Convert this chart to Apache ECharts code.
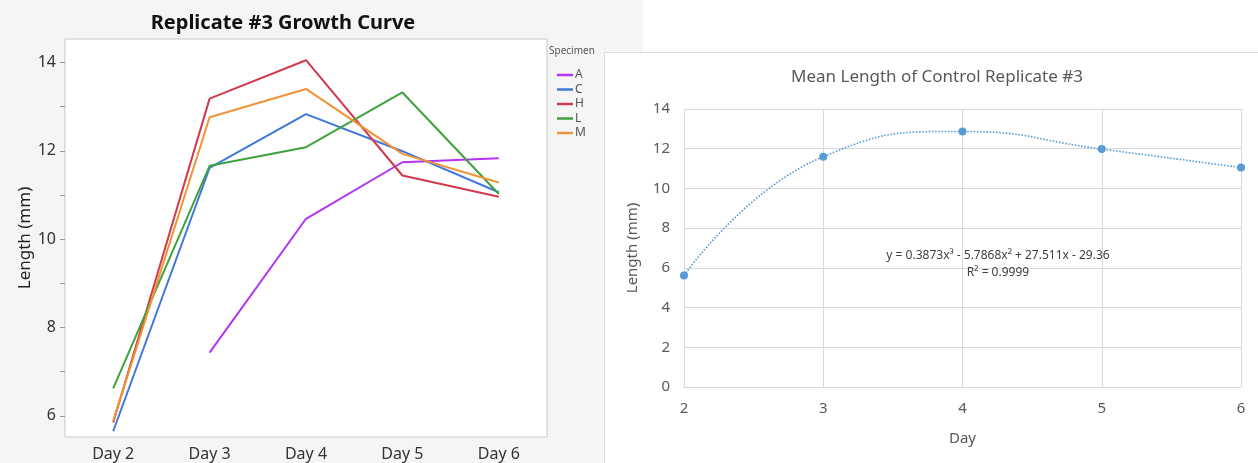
<!DOCTYPE html>
<html>
<head>
<meta charset="utf-8">
<script src="https://cdn.jsdelivr.net/npm/echarts@6/dist/echarts.min.js"></script>
<style>html,body{margin:0;padding:0;background:#fff;}#c{width:1258px;height:463px;}</style>
</head>
<body>
<div id="c"></div>
<script>
// Left chart data
const days = ['Day 2', 'Day 3', 'Day 4', 'Day 5', 'Day 6'];
const specA = [null, 7.43, 10.46, 11.74, 11.83];
const specC = [5.65, 11.61, 12.83, 11.99, 11.06];
const specH = [5.85, 13.18, 14.05, 11.44, 10.96];
const specL = [6.62, 11.66, 12.08, 13.32, 11.02];
const specM = [5.88, 12.76, 13.40, 11.93, 11.28];
const specNames = ['A', 'C', 'H', 'L', 'M'];
const specColors = ['#b533f2', '#3f78da', '#d0394e', '#3fa23f', '#ef9436'];
// Right chart data
const meanDays = [2, 3, 4, 5, 6];
const meanLen = [5.62, 11.60, 12.87, 11.98, 11.05];
const eqText = 'y = 0.3873x\u00B3 - 5.7868x\u00B2 + 27.511x - 29.36';
const r2Text = 'R\u00B2 = 0.9999';

const FONT = 'Noto Sans';
const chart = echarts.init(document.getElementById('c'));
const specData = [specA, specC, specH, specL, specM];

const series = specNames.map((n, i) => ({
  name: n, type: 'line', xAxisIndex: 0, yAxisIndex: 0,
  data: specData[i], symbol: 'none', connectNulls: false,
  lineStyle: { width: 2, color: specColors[i] }, itemStyle: { color: specColors[i] },
  z: 3
}));
series.push({
  name: 'Mean', type: 'line', xAxisIndex: 1, yAxisIndex: 1,
  data: meanDays.map((d, i) => [d, meanLen[i]]),
  smooth: 0.5, symbol: 'circle', symbolSize: 8,
  lineStyle: { width: 1.6, type: 'dotted', color: '#5b9bd5' },
  itemStyle: { color: '#5b9bd5' }, z: 3
});

chart.setOption({
  backgroundColor: '#ffffff',
  animation: false,
  textStyle: { fontFamily: FONT },
  title: [
    { text: 'Replicate #3 Growth Curve', left: 278, top: 8, textAlign: 'center',
      textStyle: { fontSize: 20, fontWeight: 'bold', color: '#111', fontFamily: FONT } },
    { text: 'Mean Length of Control Replicate #3', left: 932, top: 64, textAlign: 'center',
      textStyle: { fontSize: 17, fontWeight: 'normal', color: '#595959', fontFamily: FONT } }
  ],
  legend: {
    data: specNames, orient: 'vertical', left: 552, top: 64,
    icon: 'rect', itemWidth: 16, itemHeight: 2.5, itemGap: 2.5,
    textStyle: { fontSize: 12, color: '#555', fontFamily: FONT, padding: [0, 0, 0, -3] }
  },
  graphic: [
    { type: 'rect', shape: { x: 0, y: 0, width: 643, height: 463 }, style: { fill: '#f5f5f5' }, z: -10, silent: true },
    { type: 'rect', shape: { x: 604.5, y: 52.5, width: 660, height: 420 }, style: { fill: '#ffffff', stroke: '#dcdcdc', lineWidth: 1 }, z: -9, silent: true },
    { type: 'text', left: 549, top: 46, style: { text: 'Specimen', fontSize: 10, fill: '#555', fontFamily: FONT }, z: 5 },
    { type: 'text', x: 998, y: 256, style: { text: eqText, fontSize: 12, fill: '#404040', fontFamily: FONT, align: 'center', verticalAlign: 'middle' }, z: 5 },
    { type: 'text', x: 998, y: 273, style: { text: r2Text, fontSize: 12, fill: '#404040', fontFamily: FONT, align: 'center', verticalAlign: 'middle' }, z: 5 }
  ],
  grid: [
    { left: 65, top: 39, width: 482, height: 398, show: true, backgroundColor: '#ffffff', borderColor: '#c8c8c8', borderWidth: 1 },
    { left: 684, top: 109, width: 557, height: 278, show: false }
  ],
  xAxis: [
    { type: 'category', gridIndex: 0, data: days, boundaryGap: true,
      axisLine: { show: false }, axisTick: { show: false },
      axisLabel: { fontSize: 16, color: '#333', margin: 9, fontFamily: FONT } },
    { type: 'value', gridIndex: 1, min: 2, max: 6, interval: 1,
      name: 'Day', nameLocation: 'middle', nameGap: 44,
      nameTextStyle: { fontSize: 15, color: '#595959', fontFamily: FONT },
      axisLine: { show: true, lineStyle: { color: '#d9d9d9' } }, axisTick: { show: false },
      splitLine: { show: true, lineStyle: { color: '#d9d9d9' } },
      axisLabel: { fontSize: 15, color: '#595959', margin: 14, fontFamily: FONT } }
  ],
  yAxis: [
    { type: 'value', gridIndex: 0, min: 5.52, max: 14.53, minInterval: 1, maxInterval: 1, splitNumber: 9,
      name: 'Length (mm)', nameLocation: 'middle', nameGap: 30,
      nameTextStyle: { fontSize: 17, color: '#222', fontFamily: FONT },
      axisLine: { show: false }, splitLine: { show: false },
      axisTick: { show: true, length: 5, lineStyle: { color: '#999' } },
      axisLabel: { fontSize: 16, color: '#333', margin: 9, fontFamily: FONT,
        showMinLabel: false, showMaxLabel: false,
        formatter: v => (Math.abs(v - Math.round(v)) < 1e-6 && Math.round(v) % 2 === 0) ? String(Math.round(v)) : '' } },
    { type: 'value', gridIndex: 1, min: 0, max: 14, interval: 2,
      name: 'Length (mm)', nameLocation: 'middle', nameGap: 44,
      nameTextStyle: { fontSize: 15, color: '#595959', fontFamily: FONT },
      axisLine: { show: true, lineStyle: { color: '#d9d9d9' } }, axisTick: { show: false },
      splitLine: { show: true, lineStyle: { color: '#d9d9d9' } },
      axisLabel: { fontSize: 15, color: '#595959', margin: 14, fontFamily: FONT } }
  ],
  series: series
});
</script>
</body>
</html>
